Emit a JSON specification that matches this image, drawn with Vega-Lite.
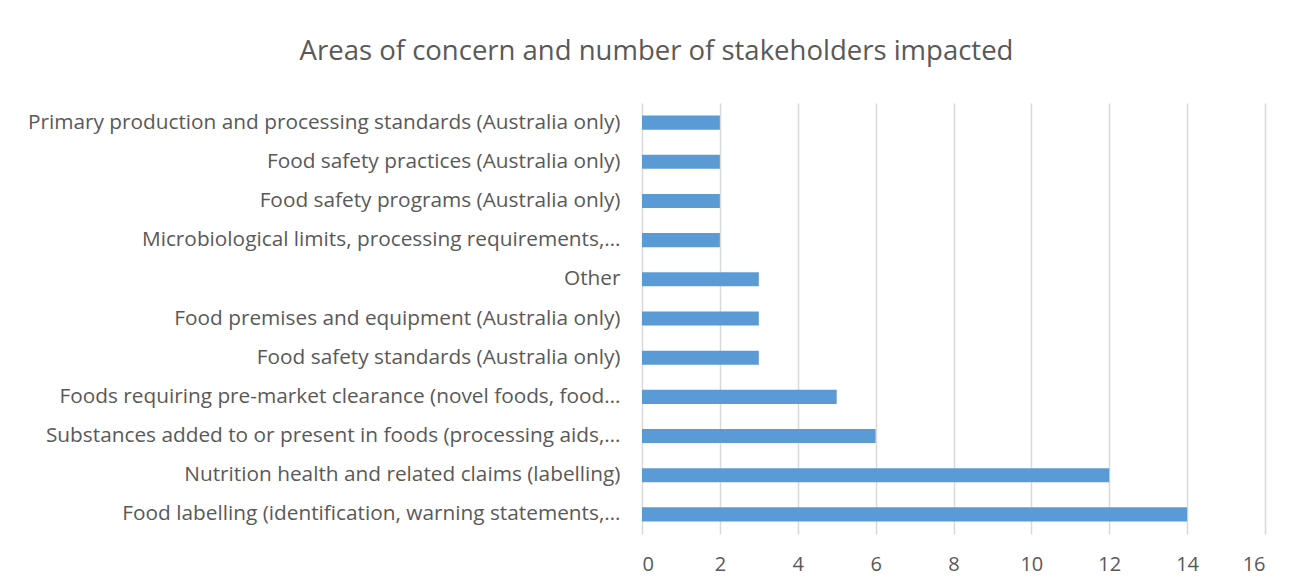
{
  "$schema": "https://vega.github.io/schema/vega-lite/v6.json",
  "autosize": "none",
  "width": 623,
  "height": 431,
  "padding": {"left": 642, "top": 103, "right": 42, "bottom": 53},
  "background": "white",
  "title": {
    "text": "Areas of concern and number of stakeholders impacted",
    "font": "Open Sans",
    "fontSize": 27.5,
    "fontWeight": "normal",
    "color": "#595959",
    "anchor": "middle",
    "dx": -297,
    "offset": 38
  },
  "data": {
    "values": [
      {"area": "Primary production and processing standards (Australia only)", "n": 2},
      {"area": "Food safety practices (Australia only)", "n": 2},
      {"area": "Food safety programs (Australia only)", "n": 2},
      {"area": "Microbiological limits, processing requirements,…", "n": 2},
      {"area": "Other", "n": 3},
      {"area": "Food premises and equipment (Australia only)", "n": 3},
      {"area": "Food safety standards (Australia only)", "n": 3},
      {"area": "Foods requiring pre-market clearance (novel foods, food…", "n": 5},
      {"area": "Substances added to or present in foods (processing aids,…", "n": 6},
      {"area": "Nutrition health and related claims (labelling)", "n": 12},
      {"area": "Food labelling (identification, warning statements,…", "n": 14}
    ]
  },
  "mark": {"type": "bar", "color": "#5B9BD5"},
  "encoding": {
    "y": {
      "field": "area",
      "type": "nominal",
      "sort": null,
      "title": null,
      "scale": {"paddingInner": 0.64, "paddingOuter": 0.32},
      "axis": {
        "domain": false,
        "ticks": false,
        "grid": false,
        "labelFont": "Open Sans",
        "labelFontSize": 20.8,
        "labelColor": "#595959",
        "labelPadding": 22,
        "labelLimit": 700
      }
    },
    "x": {
      "field": "n",
      "type": "quantitative",
      "title": null,
      "scale": {"domain": [0, 16], "nice": false},
      "axis": {
        "values": [0, 2, 4, 6, 8, 10, 12, 14, 16],
        "domain": false,
        "ticks": false,
        "grid": true,
        "gridColor": "#d9d9d9",
        "gridWidth": 1.5,
        "labelFont": "Open Sans",
        "labelFontSize": 20,
        "labelColor": "#595959",
        "labelPadding": 20
      }
    }
  },
  "config": {"view": {"stroke": null}}
}
